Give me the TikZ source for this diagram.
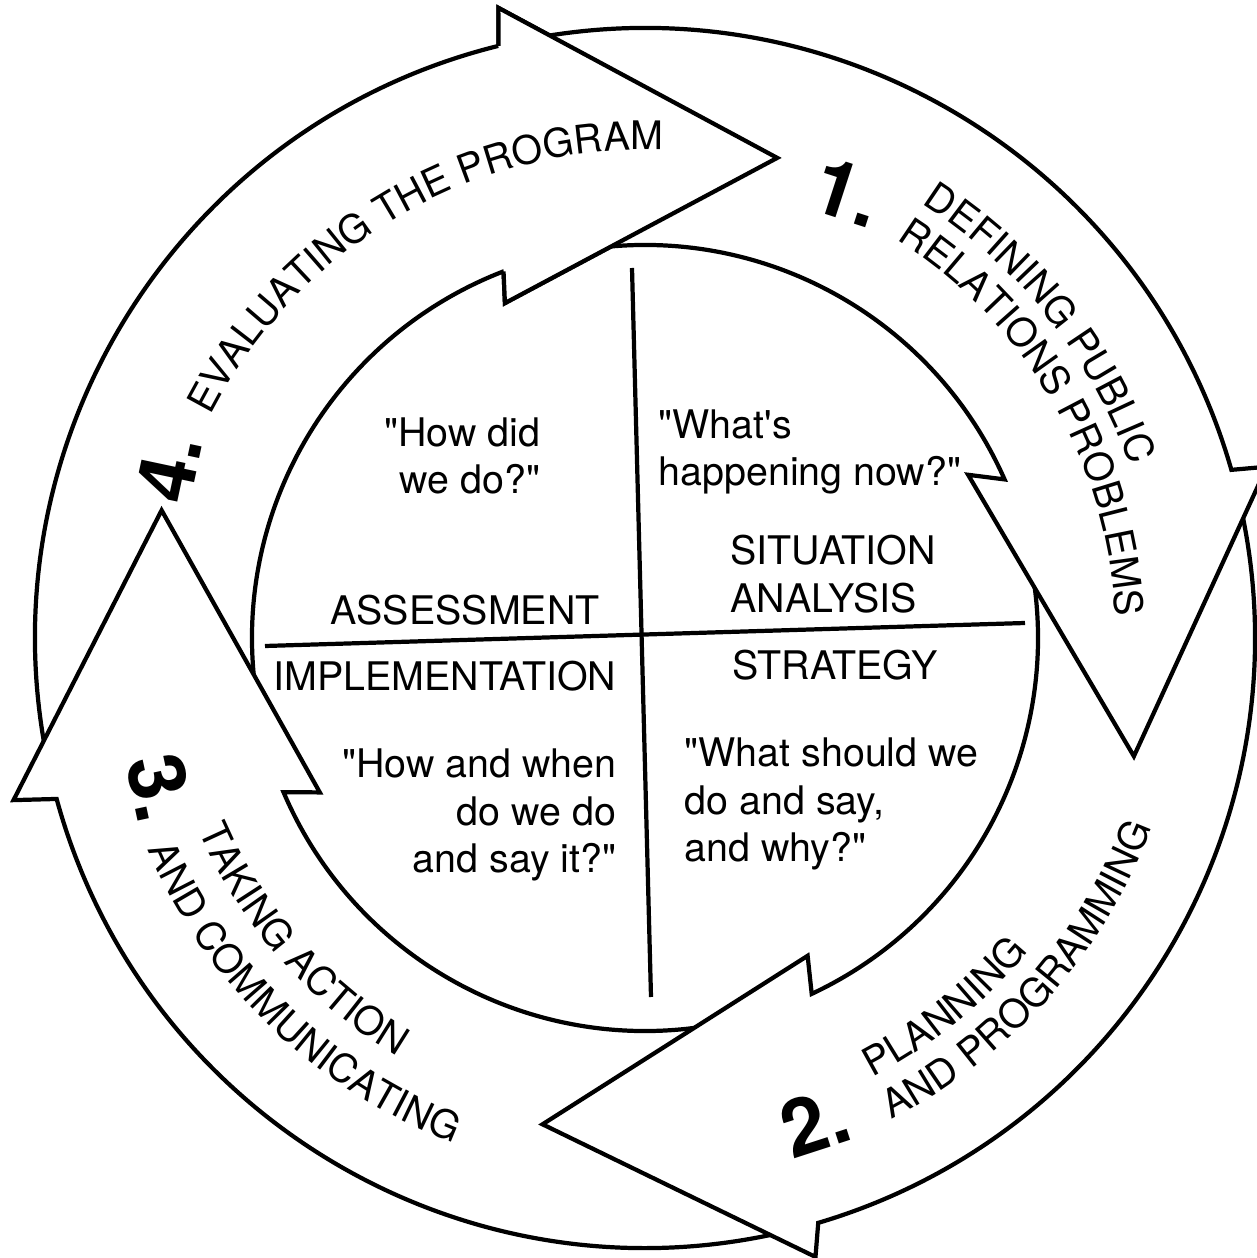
\documentclass[tikz,border=0pt]{standalone}
\usepackage{fontspec}
\setmainfont{TeX Gyre Heros}
\usetikzlibrary{decorations.text}
\newcommand{\ringfont}{\fontsize{11.2}{13.5}\selectfont}
\newcommand{\qq}{\textquotedbl}

\begin{document}
\begin{tikzpicture}[x=0.01cm, y=0.01cm, line join=miter,
    ring/.style={line width=1.2pt, fill=white},
    edge/.style={line width=1.2pt},
    quad/.style={font=\ringfont, inner sep=0pt},
    stage/.style={font=\fontsize{22.5}{24}\selectfont\bfseries, inner sep=0pt},
    ringtext/.style={decorate, decoration={text along path, text={|\ringfont|#1}}}]
  \path[use as bounding box] (-645,-620) rectangle (611,638);

  \draw[ring] (191.6:610) arc[start angle=191.6, end angle=103.9, radius=610]
    -- (103.1:647) -- (74.6:498) -- (112.7:363) -- (111.1:393)
    arc[start angle=111.1, end angle=191.6, radius=393] -- cycle;
  \draw[ring] (-75.5:610) arc[start angle=-75.5, end angle=-164.7, radius=610]
    -- (-165.6:652) -- (-194.8:500) -- (-154.6:360) -- (-156.9:393)
    arc[start angle=-156.9, end angle=-75.5, radius=393] -- cycle;
  \draw[ring] (12.8:610) arc[start angle=12.8, end angle=-73.5, radius=610]
    -- (-74.6:642) -- (-101.9:497) -- (-62.9:357) -- (-64.9:393)
    arc[start angle=-64.9, end angle=12.8, radius=393] -- cycle;
  \draw[ring] (101:610) arc[start angle=101, end angle=16, radius=610]
    -- (15.4:645) -- (-13.6:503) -- (26.8:362) -- (23.8:393)
    arc[start angle=23.8, end angle=101, radius=393] -- cycle;
  \fill[white] (103.9:610) -- (103.1:647) -- (74.6:498) -- (112.7:363) -- (111.1:393) -- cycle;
  \draw[edge] (103.9:610) -- (103.1:647) -- (74.6:498) -- (112.7:363) -- (111.1:393);

  \draw[edge] (-13,370) -- (6,-359);
  \draw[edge] (-380,-8) -- (380,15);

  \path[ringtext={EVALUATING THE PROGRAM}, decoration={text align=center}]
    (155:488) arc[start angle=155, end angle=85.8, radius=488];
  \path[ringtext={DEFINING PUBLIC}] (57.5:515) arc[start angle=57.5, end angle=-10, radius=515];
  \path[ringtext={RELATIONS PROBLEMS}] (57.7:471) arc[start angle=57.7, end angle=-20, radius=471];
  \path[ringtext={PLANNING}] (-62.6:495) arc[start angle=-62.6, end angle=0, radius=495];
  \path[ringtext={AND PROGRAMMING}] (-62.9:541) arc[start angle=-62.9, end angle=0, radius=541];
  \path[ringtext={TAKING ACTION}] (203.3:486) arc[start angle=203.3, end angle=280, radius=486];
  \path[ringtext={AND COMMUNICATING}] (203:540) arc[start angle=203, end angle=280, radius=540];

  \node[stage, rotate=-18] (one) at (203,446) {1.};
  \node[stage, rotate=18] (two) at (170,-484) {2.};
  \node[stage, rotate=-78] (three) at (-485,-150) {3.};
  \node[stage, rotate=78] (four) at (-476,170) {4.};

  \node[quad, anchor=east, align=right] (howdid) at (-104,182) {\qq How did\\we do?\qq};
  \node[quad, anchor=west, align=left] (whatsnow) at (13,186) {\qq What\textquotesingle s\\happening now?\qq};
  \node[quad, anchor=west, align=left] (situation) at (85,64) {SITUATION\\ANALYSIS};
  \node[quad] (assessment) at (-180,28) {ASSESSMENT};
  \node[quad] (implementation) at (-200,-38) {IMPLEMENTATION};
  \node[quad] (strategy) at (190,-27) {STRATEGY};
  \node[quad, anchor=east, align=right] (howwhen) at (-28,-177) {\qq How and when\\do we do\\and say it?\qq};
  \node[quad, anchor=west, align=left] (whatshould) at (39,-166) {\qq What should we\\do and say,\\and why?\qq};
\end{tikzpicture}
\end{document}
